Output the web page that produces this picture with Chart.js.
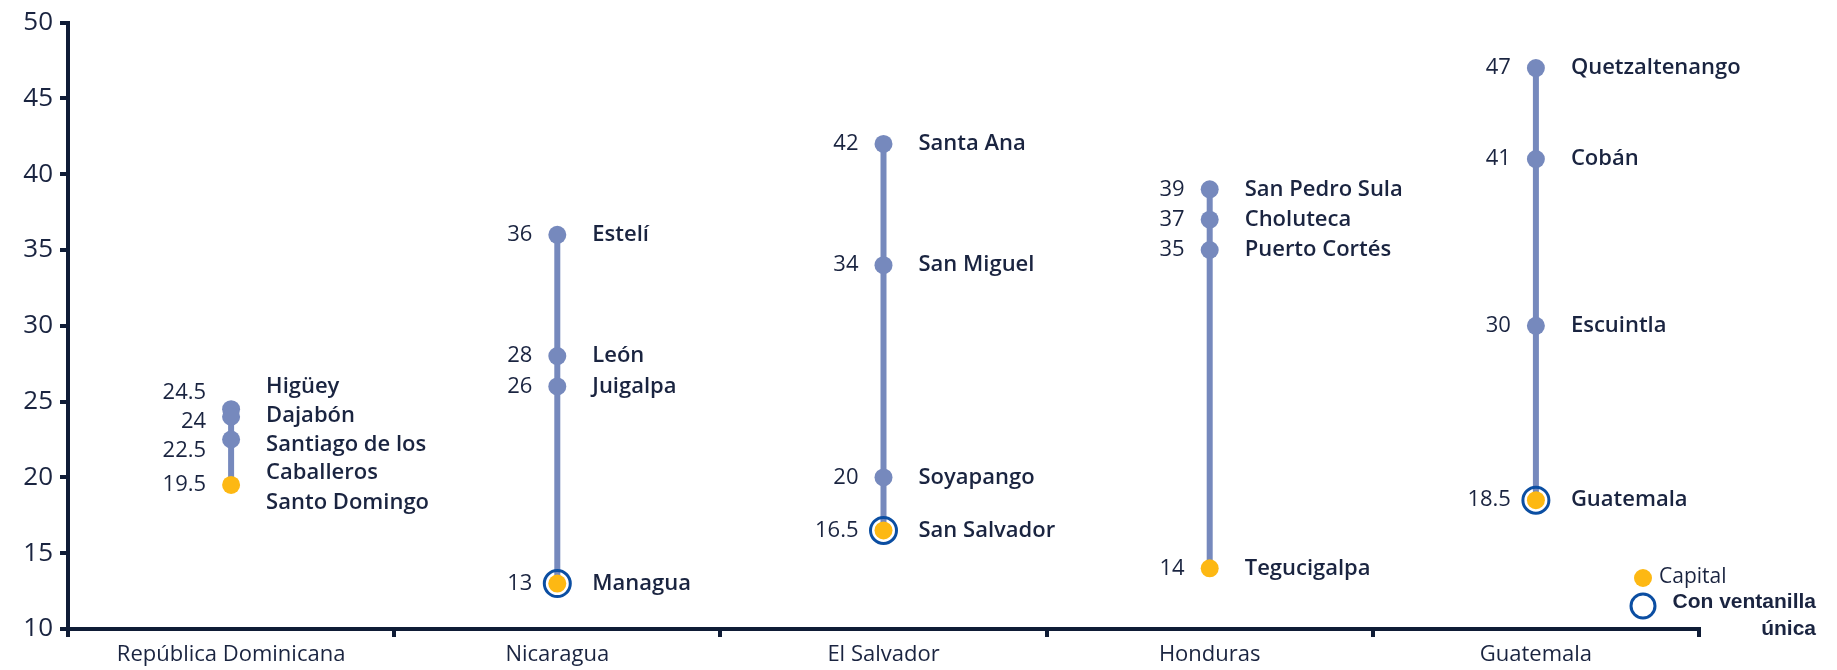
<!DOCTYPE html>
<html lang="es">
<head>
<meta charset="utf-8">
<title>Ciudades por país</title>
<script src="https://cdn.jsdelivr.net/npm/chart.js@4.4.1/dist/chart.umd.min.js"></script>
<style>
  html, body { margin: 0; padding: 0; background: #ffffff; }
  #wrap { width: 1837px; height: 670px; position: relative; }
</style>
</head>
<body>
<div id="wrap"><canvas id="cityChart"></canvas></div>
<script>
// ── DATA ──────────────────────────────────────────────
// One list of cities + values per country, top to bottom.
const countries = ['República Dominicana', 'Nicaragua', 'El Salvador', 'Honduras', 'Guatemala'];

const rdCities = ['Higüey', 'Dajabón', ['Santiago de los', 'Caballeros'], 'Santo Domingo'];
const rdValues = [24.5, 24, 22.5, 19.5];

const niCities = ['Estelí', 'León', 'Juigalpa', 'Managua'];
const niValues = [36, 28, 26, 13];

const svCities = ['Santa Ana', 'San Miguel', 'Soyapango', 'San Salvador'];
const svValues = [42, 34, 20, 16.5];

const hnCities = ['San Pedro Sula', 'Choluteca', 'Puerto Cortés', 'Tegucigalpa'];
const hnValues = [39, 37, 35, 14];

const gtCities = ['Quetzaltenango', 'Cobán', 'Escuintla', 'Guatemala'];
const gtValues = [47, 41, 30, 18.5];

const capitals   = ['Santo Domingo', 'Managua', 'San Salvador', 'Tegucigalpa', 'Guatemala'];
const ventanilla = ['Managua', 'San Salvador', 'Guatemala'];   // "Con ventanilla única"

const yTicks = [10, 15, 20, 25, 30, 35, 40, 45, 50];

const cityLists  = [rdCities, niCities, svCities, hnCities, gtCities];
const valueLists = [rdValues, niValues, svValues, hnValues, gtValues];

// ── COLOURS / FONTS ───────────────────────────────────
const NAVY   = '#0f1c36';
const TEXT   = '#1a2440';
const STEEL  = '#7689bd';
const ORANGE = '#fdb813';
const RING   = '#0b4ea2';
const FONT   = "'Open Sans', 'Noto Sans', sans-serif";

function cityName(c) { return Array.isArray(c) ? c.join(' ') : c; }

// ── BUILD DATASETS ────────────────────────────────────
const datasets = countries.map((country, i) => ({
  label: country,
  data: valueLists[i].map(v => ({ x: country, y: v })),
  borderColor: STEEL,
  borderWidth: 6,
  pointRadius: 9,
  pointHoverRadius: 9,
  pointBorderWidth: 0,
  pointBackgroundColor: cityLists[i].map(c => capitals.includes(cityName(c)) ? ORANGE : STEEL),
  clip: false,
  order: 1
}));

// Blue rings around the capitals that have a single window
const ringData = [];
countries.forEach((country, i) => {
  cityLists[i].forEach((c, j) => {
    if (ventanilla.includes(cityName(c))) ringData.push({ x: country, y: valueLists[i][j] });
  });
});
datasets.push({
  label: 'Con ventanilla única',
  data: ringData,
  showLine: false,
  pointRadius: 13,
  pointHoverRadius: 13,
  pointBackgroundColor: 'rgba(0,0,0,0)',
  pointBorderColor: RING,
  pointBorderWidth: 3,
  clip: false,
  order: 0
});

// ── HELPER: stack labels so they don't overlap ────────
// items: [{ y, lines }] top to bottom. Overlapping runs get
// merged into a block centred on the points it covers.
function stackLabels(items, lh) {
  const blocks = [];
  items.forEach((it, idx) => {
    blocks.push({ idx: [idx], pos: it.y });
    while (blocks.length > 1) {
      const a = blocks[blocks.length - 2];
      const b = blocks[blocks.length - 1];
      const aH = a.idx.reduce((s, k) => s + items[k].lines * lh, 0);
      if (b.pos >= a.pos + aH) break;
      const merged = a.idx.concat(b.idx);
      let off = 0, sum = 0;
      merged.forEach(k => { sum += items[k].y - off; off += items[k].lines * lh; });
      blocks.splice(blocks.length - 2, 2, { idx: merged, pos: sum / merged.length });
    }
  });
  const out = [];
  blocks.forEach(b => {
    let off = 0;
    b.idx.forEach(k => { out[k] = b.pos + off; off += items[k].lines * lh; });
  });
  return out;
}

// ── PLUGIN: values left, city names right, legend ─────
const labelPlugin = {
  id: 'cityLabels',
  afterDatasetsDraw(chart) {
    const ctx = chart.ctx;
    ctx.save();
    ctx.textBaseline = 'middle';

    countries.forEach((country, i) => {
      const pts = chart.getDatasetMeta(i).data;
      const names = cityLists[i].map(c => Array.isArray(c) ? c : [c]);

      const nameY = stackLabels(pts.map((p, j) => ({ y: p.y, lines: names[j].length })), 29);
      const numY  = stackLabels(pts.map(p => ({ y: p.y, lines: 1 })), 29);

      pts.forEach((p, j) => {
        ctx.fillStyle = TEXT;
        ctx.font = '400 22px ' + FONT;
        ctx.textAlign = 'right';
        ctx.fillText(String(valueLists[i][j]), p.x - 25, numY[j]);

        ctx.font = '600 22px ' + FONT;
        ctx.textAlign = 'left';
        names[j].forEach((line, l) => ctx.fillText(line, p.x + 35, nameY[j] + l * 28));
      });
    });

    // Legend in the lower-right corner
    const a = chart.chartArea;
    const lx = a.right - 56;
    ctx.fillStyle = ORANGE;
    ctx.beginPath(); ctx.arc(lx, a.bottom - 51, 9, 0, Math.PI * 2); ctx.fill();
    ctx.strokeStyle = RING; ctx.lineWidth = 3;
    ctx.beginPath(); ctx.arc(lx, a.bottom - 23, 12, 0, Math.PI * 2); ctx.stroke();

    ctx.fillStyle = TEXT;
    ctx.font = '400 21px ' + FONT;
    ctx.textAlign = 'left';
    ctx.fillText('Capital', lx + 16, a.bottom - 52);

    ctx.font = 'bold 21px "Liberation Sans", Arial, sans-serif';
    ctx.textAlign = 'right';
    ctx.fillText('Con ventanilla', a.right + 117, a.bottom - 27);
    ctx.fillText('única', a.right + 117, a.bottom);
    ctx.restore();
  }
};

// ── CHART ─────────────────────────────────────────────
new Chart(document.getElementById('cityChart').getContext('2d'), {
  type: 'line',
  data: { labels: countries, datasets: datasets },
  plugins: [labelPlugin],
  options: {
    responsive: true,
    maintainAspectRatio: false,
    animation: false,
    layout: { padding: { top: 20, right: 138, bottom: 0, left: 0 } },
    plugins: { legend: { display: false }, tooltip: { enabled: false } },
    scales: {
      x: {
        type: 'category',
        offset: true,
        afterFit: s => { s.height = 41; },
        border: { display: true, color: NAVY, width: 4 },
        grid: { offset: true, drawOnChartArea: false, drawTicks: true, tickLength: 8, color: NAVY, lineWidth: 4 },
        ticks: { color: TEXT, padding: 5, font: { family: FONT, size: 22, weight: '500' }, maxRotation: 0 }
      },
      y: {
        min: 10,
        max: 50,
        afterFit: s => { s.width = 68; },
        afterBuildTicks: s => { s.ticks = yTicks.map(v => ({ value: v })); },
        border: { display: true, color: NAVY, width: 4 },
        grid: { drawOnChartArea: false, drawTicks: true, tickLength: 8, color: NAVY, lineWidth: 4 },
        ticks: { color: TEXT, padding: 7, font: { family: FONT, size: 26, weight: '500' } }
      }
    }
  }
});
</script>
</body>
</html>
